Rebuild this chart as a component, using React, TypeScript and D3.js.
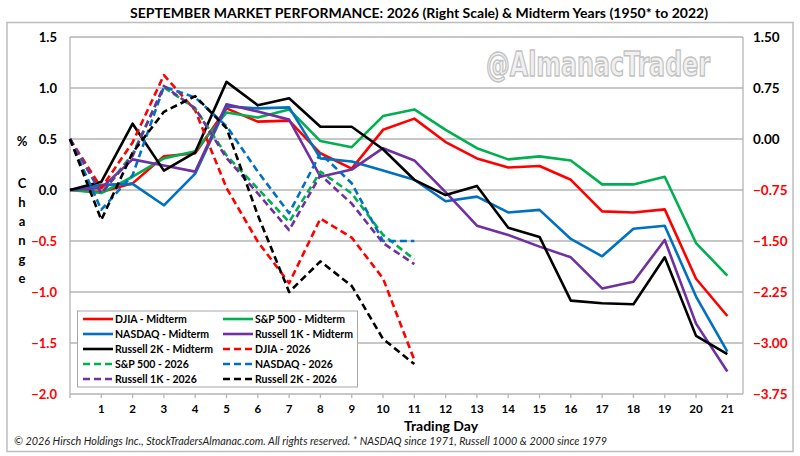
import * as d3 from 'd3'

const days = d3.range(0, 22)
const days2026 = d3.range(0, 12)

// midterm averages, left scale (%)
const djiaMid = [0, -0.02, 0.065, 0.33, 0.36, 0.8, 0.67, 0.68, 0.36, 0.21, 0.59, 0.7, 0.47, 0.31, 0.22, 0.235, 0.1, -0.21, -0.22, -0.19, -0.87, -1.235]
const spxMid = [0, -0.03, 0.13, 0.31, 0.38, 0.76, 0.71, 0.79, 0.48, 0.42, 0.725, 0.79, 0.59, 0.41, 0.3, 0.33, 0.29, 0.055, 0.055, 0.13, -0.52, -0.84]
const nasdaqMid = [0, 0.05, 0.06, -0.15, 0.16, 0.82, 0.8, 0.81, 0.31, 0.28, 0.19, 0.1, -0.11, -0.065, -0.22, -0.195, -0.48, -0.65, -0.38, -0.35, -1.045, -1.585]
const r1kMid = [0, 0.02, 0.3, 0.24, 0.18, 0.84, 0.77, 0.69, 0.13, 0.2, 0.41, 0.29, -0.02, -0.35, -0.44, -0.555, -0.66, -0.965, -0.9, -0.49, -1.31, -1.78]
const r2kMid = [0, 0.08, 0.65, 0.19, 0.37, 1.06, 0.83, 0.9, 0.62, 0.62, 0.4, 0.1, -0.05, 0.04, -0.37, -0.46, -1.085, -1.11, -1.12, -0.66, -1.43, -1.61]

// 2026, right scale (%)
const djia2026 = [0, -0.72, -0.05, 0.94, 0.42, -0.72, -1.51, -2.12, -1.17, -1.45, -2.05, -3.25]
const spx2026 = [0, -0.8, -0.22, 0.76, 0.45, -0.24, -0.73, -1.22, -0.48, -0.8, -1.41, -1.77]
const nasdaq2026 = [0, -1.04, -0.53, 0.77, 0.61, 0.19, -0.48, -1.09, -0.21, -0.65, -1.5, -1.5]
const r1k2026 = [0, -0.8, -0.25, 0.78, 0.45, -0.28, -0.8, -1.34, -0.53, -0.95, -1.53, -1.84]
const r2k2026 = [0, -1.19, -0.2, 0.4, 0.63, 0.16, -1.12, -2.25, -1.8, -2.16, -2.94, -3.31]

const leftTicks = [1.5, 1.0, 0.5, 0.0, -0.5, -1.0, -1.5, -2.0]
const rightTicks = [1.5, 0.75, 0, -0.75, -1.5, -2.25, -3.0, -3.75]
const dayLabels = d3.range(1, 22)

const RED = '#ff0000'
const GREEN = '#00b050'
const BLUE = '#0070c0'
const PURPLE = '#7030a0'
const BLACK = '#000000'

const series = [
  {name: 'DJIA - Midterm', values: djiaMid, color: RED, dashed: false, right: false},
  {name: 'S&P 500 - Midterm', values: spxMid, color: GREEN, dashed: false, right: false},
  {name: 'NASDAQ - Midterm', values: nasdaqMid, color: BLUE, dashed: false, right: false},
  {name: 'Russell 1K - Midterm', values: r1kMid, color: PURPLE, dashed: false, right: false},
  {name: 'Russell 2K - Midterm', values: r2kMid, color: BLACK, dashed: false, right: false},
  {name: 'DJIA - 2026', values: djia2026, color: RED, dashed: true, right: true},
  {name: 'S&P 500 - 2026', values: spx2026, color: GREEN, dashed: true, right: true},
  {name: 'NASDAQ - 2026', values: nasdaq2026, color: BLUE, dashed: true, right: true},
  {name: 'Russell 1K - 2026', values: r1k2026, color: PURPLE, dashed: true, right: true},
  {name: 'Russell 2K - 2026', values: r2k2026, color: BLACK, dashed: true, right: true},
]

const W = 800
const H = 456
const plot = {left: 70, right: 743, top: 37, bottom: 394}
const FONT = 'Lato, "Open Sans", sans-serif'
const GRID = '#b4b4b4'

const fmt = (v: number, digits: number) => (v < 0 ? '\u2212' + Math.abs(v).toFixed(digits) : v.toFixed(digits))

export default function App() {
  const x = d3.scaleLinear().domain([0, 21.5]).range([plot.left, plot.right])
  const yL = d3.scaleLinear().domain([-2, 1.5]).range([plot.bottom, plot.top])
  const yR = d3.scaleLinear().domain([-3.75, 1.5]).range([plot.bottom, plot.top])

  const lineFor = (right: boolean) =>
    d3
      .line<number>()
      .x((_, i) => x(right ? days2026[i] : days[i]))
      .y(v => (right ? yR(v) : yL(v)))

  const changeLetters = ['C', 'h', 'a', 'n', 'g', 'e']

  return (
    <div style={{position: 'absolute', left: 0, top: 0}}>
      <svg width={W} height={H} style={{display: 'block', background: '#fff'}} fontFamily={FONT}>
        <rect x={0} y={0} width={W} height={H} fill="#fff" />
        <text x={419} y={18} textAnchor="middle" fontSize={14} fontWeight="bold">
          SEPTEMBER MARKET PERFORMANCE: 2026 (Right Scale) &amp; Midterm Years (1950* to 2022)
        </text>
        <rect x={7} y={22.5} width={786} height={429} fill="none" stroke="#bdbdbd" strokeWidth={1.5} />

        {/* watermark */}
        <g transform="translate(598,76) scale(1,1.4)">
          <text
            x={0}
            y={0}
            textAnchor="middle"
            fontFamily='"DejaVu Sans Condensed", "DejaVu Sans", sans-serif'
            fontWeight="bold"
            fontSize={24}
            textLength={224}
            lengthAdjust="spacingAndGlyphs"
            fill="#f1f1f1"
            stroke="#c2c2c2"
            strokeWidth={1}
          >
            @AlmanacTrader
          </text>
        </g>

        {/* gridlines */}
        {leftTicks.map(t => (
          <line key={'g' + t} x1={plot.left} x2={plot.right} y1={yL(t)} y2={yL(t)} stroke={GRID} strokeWidth={1.3} />
        ))}
        <line x1={plot.left} x2={plot.left} y1={plot.top} y2={plot.bottom} stroke={GRID} strokeWidth={1.3} />
        <line x1={plot.right} x2={plot.right} y1={plot.top} y2={plot.bottom} stroke={GRID} strokeWidth={1.3} />
        {days.map(d => (
          <line key={'t' + d} x1={x(d)} x2={x(d)} y1={plot.bottom} y2={plot.bottom + 4} stroke={GRID} strokeWidth={1.3} />
        ))}

        {/* left axis labels */}
        {leftTicks.map(t => (
          <text
            key={'l' + t}
            x={57}
            y={yL(t)}
            dy="0.35em"
            textAnchor="end"
            fontSize={13}
            fontWeight="bold"
            fill={t < 0 ? RED : BLACK}
          >
            {fmt(t, 1)}
          </text>
        ))}
        {/* right axis labels */}
        {rightTicks.map(t => (
          <text
            key={'r' + t}
            x={753}
            y={yR(t)}
            dy="0.35em"
            textAnchor="start"
            fontSize={13.5}
            fontWeight="bold"
            fill={t < 0 ? RED : BLACK}
          >
            {fmt(t, 2)}
          </text>
        ))}
        {/* x labels */}
        {dayLabels.map(d => (
          <text key={'x' + d} x={x(d)} y={413} textAnchor="middle" fontSize={11.5} fontWeight="bold">
            {d}
          </text>
        ))}
        <text x={441} y={431} textAnchor="middle" fontSize={14} fontWeight="bold">
          Trading Day
        </text>

        {/* y title */}
        <text x={22} y={146} textAnchor="middle" fontSize={13} fontWeight="bold">
          %
        </text>
        {changeLetters.map((c, i) => (
          <text key={'c' + i} x={22} y={188 + i * 19} textAnchor="middle" fontSize={13} fontWeight="bold">
            {c}
          </text>
        ))}

        {/* series */}
        {series.map(s => (
          <path
            key={s.name}
            d={lineFor(s.right)(s.values) || ''}
            fill="none"
            stroke={s.color}
            strokeWidth={2.6}
            strokeDasharray={s.dashed ? '7 4' : undefined}
            strokeLinejoin="round"
          />
        ))}

        {/* legend */}
        <rect x={77.5} y={311} width={280} height={76} fill="#fff" stroke="#a6a6a6" strokeWidth={1} />
        {series.map((s, i) => {
          const col = i % 2
          const row = Math.floor(i / 2)
          const lx = col === 0 ? 83 : 223
          const ly = 319 + row * 15
          return (
            <g key={'lg' + s.name}>
              <line
                x1={lx}
                x2={lx + 30}
                y1={ly}
                y2={ly}
                stroke={s.color}
                strokeWidth={2.6}
                strokeDasharray={s.dashed ? '7 4' : undefined}
              />
              <text x={lx + 32} y={ly} dy="0.35em" fontSize={10.5} fontWeight="bold">
                {s.name}
              </text>
            </g>
          )
        })}

        <text x={14} y={445} fontSize={10.8} fontStyle="italic" fill="#222">
          © 2026 Hirsch Holdings Inc., StockTradersAlmanac.com. All rights reserved. * NASDAQ since 1971, Russell 1000 &amp; 2000 since 1979
        </text>
      </svg>
    </div>
  )
}
